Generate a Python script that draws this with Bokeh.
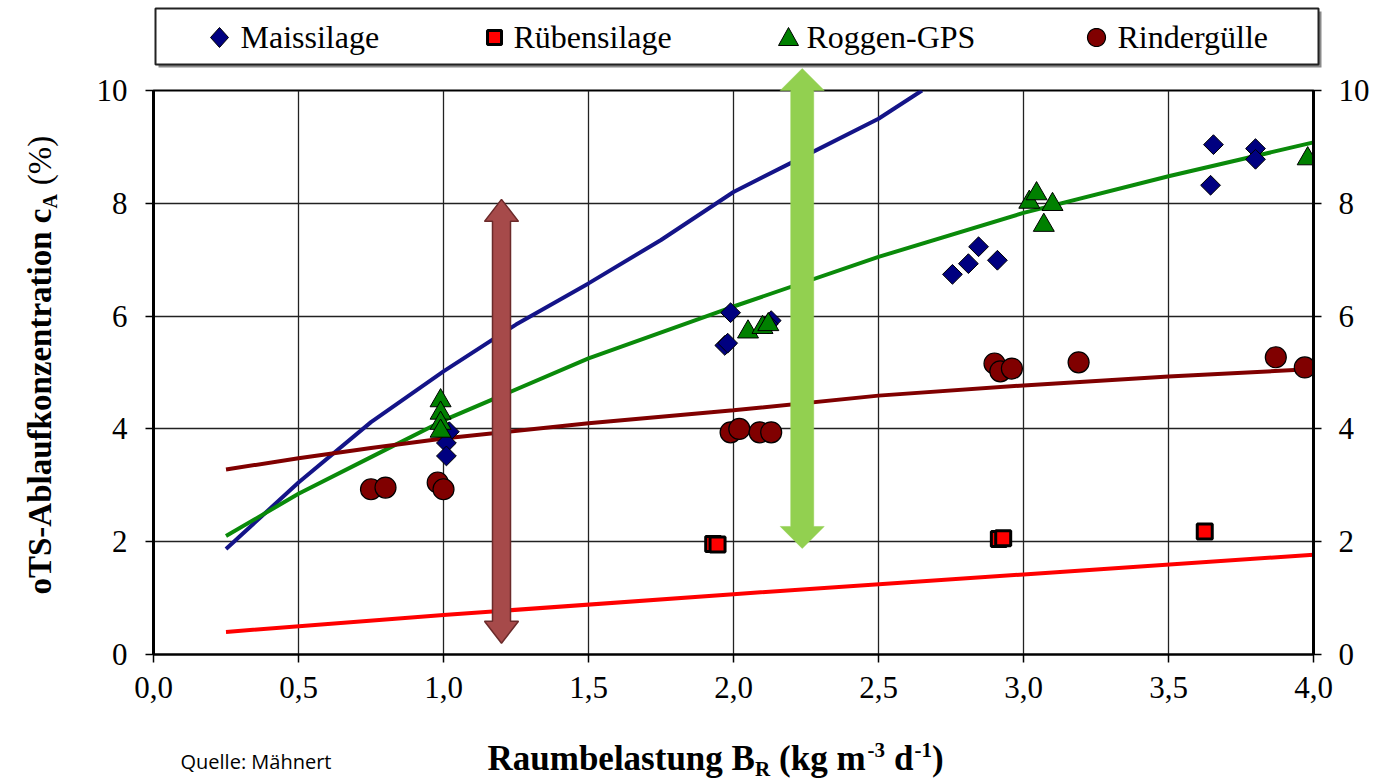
import math
from bokeh.plotting import figure
from bokeh.models import Range1d, LinearAxis, FixedTicker, CustomJSTickFormatter
from bokeh.core.properties import value
from bokeh.embed import file_html
from bokeh.resources import INLINE

# ---------------- data ----------------
series_names = ["Maissilage", "Rübensilage", "Roggen-GPS", "Rindergülle"]

mais_x = [1.02, 1.01, 1.01, 1.99, 1.97, 1.98, 2.13, 2.12, 2.755, 2.81, 2.845, 2.91, 3.655, 3.645, 3.80, 3.80]
mais_y = [3.95, 3.75, 3.52, 6.06, 5.48, 5.52, 5.92, 5.86, 6.74, 6.93, 7.23, 6.99, 9.04, 8.32, 8.97, 8.78]

rueben_x = [1.93, 1.945, 2.915, 2.93, 3.625]
rueben_y = [1.96, 1.95, 2.05, 2.06, 2.18]

roggen_x = [0.99, 0.99, 0.99, 0.99, 2.05, 2.10, 2.12, 3.02, 3.045, 3.10, 3.07, 3.98]
roggen_y = [4.50, 4.28, 4.10, 3.96, 5.72, 5.80, 5.85, 8.02, 8.17, 7.98, 7.61, 8.79]

rind_x = [0.75, 0.80, 0.98, 1.00, 1.99, 2.02, 2.09, 2.13, 2.90, 2.92, 2.96, 3.19, 3.87, 3.97]
rind_y = [2.93, 2.96, 3.05, 2.93, 3.94, 4.00, 3.94, 3.94, 5.16, 5.02, 5.07, 5.18, 5.27, 5.09]

# trend lines
mais_fit_x = [0.25, 0.5, 0.75, 1.0, 1.25, 1.5, 1.75, 2.0, 2.25, 2.5, 2.65]
mais_fit_y = [1.87, 3.05, 4.12, 5.02, 5.85, 6.58, 7.35, 8.20, 8.85, 9.50, 10.0]

roggen_fit_x = [0.25, 0.5, 0.75, 1.0, 1.5, 2.0, 2.5, 3.0, 3.5, 4.0]
roggen_fit_y = [2.10, 2.85, 3.50, 4.15, 5.25, 6.17, 7.05, 7.83, 8.48, 9.08]

rind_fit_x = [0.25, 0.5, 0.75, 1.0, 1.5, 2.0, 2.5, 3.0, 3.5, 4.0]
rind_fit_y = [3.28, 3.48, 3.66, 3.83, 4.10, 4.33, 4.59, 4.77, 4.93, 5.06]

rueben_fit_x = [0.25, 1.0, 2.0, 3.0, 4.0]
rueben_fit_y = [0.40, 0.70, 1.07, 1.42, 1.77]

x_ticks = [0.0, 0.5, 1.0, 1.5, 2.0, 2.5, 3.0, 3.5, 4.0]
y_ticks = [0, 2, 4, 6, 8, 10]

# annotation arrows (x position, lower tip, upper tip in data units)
brown_arrow = (1.20, 0.20, 8.07)
green_arrow = (2.237, 1.88, 10.39)

# ---------------- layout ----------------
FW, FH = 1160, 564
BL, BR, BT, BB = 153, 65, 90, 129
X0, X1, Y0, Y1 = 0.0, 4.0, 0.0, 10.0
px_x = FW / (X1 - X0)
px_y = FH / (Y1 - Y0)

def dx(px):   # canvas pixel x -> data x
    return X0 + (px - BL) / px_x

def dy(py):   # canvas pixel y -> data y
    return Y0 + (BT + FH - py) / px_y

p = figure(frame_width=FW, frame_height=FH,
           x_range=Range1d(X0, X1), y_range=Range1d(Y0, Y1),
           output_backend="svg", toolbar_location=None,
           min_border_left=BL, min_border_right=BR, min_border_top=BT, min_border_bottom=BB,
           background_fill_color="white", border_fill_color="white",
           outline_line_color="black", outline_line_width=2)

fmt = CustomJSTickFormatter(code="return tick.toFixed(1).replace('.', ',');")
p.xaxis.ticker = FixedTicker(ticks=x_ticks)
p.xaxis.formatter = fmt
p.yaxis.ticker = FixedTicker(ticks=y_ticks)
raxis = LinearAxis(ticker=FixedTicker(ticks=y_ticks))
p.add_layout(raxis, "right")

for ax in [p.xaxis[0], p.yaxis[0], raxis]:
    ax.major_label_text_font = "Liberation Serif"
    ax.major_label_text_font_size = "31px"
    ax.major_label_text_color = "black"
    ax.major_tick_out = 8
    ax.major_tick_in = 0
    ax.major_tick_line_width = 1.5
    ax.major_tick_line_color = "black"
    ax.minor_tick_out = 0
    ax.minor_tick_in = 0
    ax.axis_line_color = "black"
p.yaxis[0].axis_line_width = 3
raxis.axis_line_width = 3
p.xaxis[0].axis_line_width = 2
p.yaxis[0].major_label_standoff = 18
raxis.major_label_standoff = 17
p.xaxis[0].major_label_standoff = 14

p.xgrid[0].ticker = FixedTicker(ticks=x_ticks)
p.ygrid[0].ticker = FixedTicker(ticks=y_ticks)
for g in [p.xgrid[0], p.ygrid[0]]:
    g.grid_line_color = "#222222"
    g.grid_line_width = 1.3

# ---------------- trend lines ----------------
p.line(mais_fit_x, mais_fit_y, line_color="#141488", line_width=4)
p.line(roggen_fit_x, roggen_fit_y, line_color="#0A8A0A", line_width=4)
p.line(rind_fit_x, rind_fit_y, line_color="#800000", line_width=4)
p.line(rueben_fit_x, rueben_fit_y, line_color="#FF0000", line_width=4)

# ---------------- points ----------------
fills = ["#000080", "#FF0000", "#008000", "#800000"]
styles = [dict(marker="square", angle=math.pi / 4, size=14, line_width=1),
          dict(marker="square", angle=0.0, size=15, line_width=3),
          dict(marker="triangle", angle=0.0, size=21, line_width=1),
          dict(marker="circle", angle=0.0, size=21, line_width=1.2)]
series = [(mais_x, mais_y), (rueben_x, rueben_y), (roggen_x, roggen_y), (rind_x, rind_y)]
for (xs, ys), st, fc in zip(series, styles, fills):
    p.scatter(xs, ys, fill_color=fc, line_color="black", **st)

# ---------------- arrows ----------------
def double_arrow(spec, shaft, head_w, head_l):
    xc, y0, y1 = spec
    s = shaft / 2 / px_x
    h = head_w / 2 / px_x
    l = head_l / px_y
    xs = [xc - s, xc - h, xc, xc + h, xc + s, xc + s, xc + h, xc, xc - h, xc - s]
    ys = [y0 + l, y0 + l, y0, y0 + l, y0 + l, y1 - l, y1 - l, y1, y1 - l, y1 - l]
    return xs, ys

bx, by = double_arrow(brown_arrow, 18, 34, 22)
p.patch(bx, by, fill_color="#A64A4A", line_color="#6B2A2A", line_width=1.5, level="overlay")
gx, gy = double_arrow(green_arrow, 23, 44, 22)
p.patch(gx, gy, fill_color="#92D050", line_color="#92D050", line_width=0.5, level="overlay")

# ---------------- text helper ----------------
BASE_SHIFT = 0.33   # the text glyph sits about a third of the font size below the requested baseline

def put_text(px, py, txt, size, bold=True, angle=0.0, font="Liberation Serif"):
    if angle == 0.0:
        py = py - BASE_SHIFT * size
    else:
        px = px - BASE_SHIFT * size
    p.text(x=[dx(px)], y=[dy(py)], text=[txt], angle=angle,
           text_font=value(font), text_font_style=value("bold" if bold else "normal"),
           text_font_size=value(f"{size}px"), text_color="black",
           text_align="left", text_baseline="alphabetic", level="overlay")

# ---------------- legend (drawn above the frame) ----------------
LEG_BOX = (155, 1318, 8, 64)          # left, right, top, bottom in canvas pixels
LEG_MARK_X = [219, 494, 788, 1096]
LEG_TEXT_X = [240, 513, 806, 1117]
LEG_MARK_Y, LEG_TEXT_BASE = 37, 47
lb, rb, tb, bb = LEG_BOX
p.quad(left=[dx(lb + 3)], right=[dx(rb + 3)], top=[dy(tb + 3)], bottom=[dy(bb + 3)],
       fill_color="#8a8a8a", line_color=None, level="overlay")
p.quad(left=[dx(lb)], right=[dx(rb)], top=[dy(tb)], bottom=[dy(bb)],
       fill_color="white", line_color="#222222", line_width=2, level="overlay")

def symbol(kind, cx, cy):
    if kind == "diamond":
        pts = [(0, -10), (9, 0), (0, 10), (-9, 0)]
    elif kind == "square":
        pts = [(-7, -7), (7, -7), (7, 7), (-7, 7)]
    elif kind == "triangle":
        pts = [(0, -10), (10, 8), (-10, 8)]
    else:
        pts = [(9 * math.cos(t * math.pi / 18), 9 * math.sin(t * math.pi / 18)) for t in range(36)]
    return [dx(cx + a) for a, b in pts], [dy(cy + b) for a, b in pts]

leg_kinds = ["diamond", "square", "triangle", "circle"]
leg_lw = [1, 3, 1, 1.2]
for name, kind, fc, lw, mx, tx in zip(series_names, leg_kinds, fills, leg_lw, LEG_MARK_X, LEG_TEXT_X):
    sx, sy = symbol(kind, mx, LEG_MARK_Y)
    p.patch(sx, sy, fill_color=fc, line_color="black", line_width=lw, level="overlay")
    put_text(tx, LEG_TEXT_BASE, name, 32, bold=False)

# ---------------- axis titles (with sub/superscripts) ----------------
BOLD = {' ': 250, '(': 333, ')': 333, '-': 333, '%': 1000, '1': 500, '3': 500,
        'A': 722, 'B': 667, 'R': 722, 'S': 556, 'T': 667,
        'a': 500, 'b': 556, 'c': 444, 'd': 556, 'e': 444, 'f': 333, 'g': 500, 'i': 278,
        'k': 556, 'l': 278, 'm': 833, 'n': 556, 'o': 500, 'r': 444, 's': 389, 't': 333,
        'u': 556, 'z': 444}
REG = {' ': 250, '(': 333, ')': 333, '%': 833}

def width(text, size, bold=True):
    tbl = BOLD if bold else REG
    return sum(tbl.get(ch, 500) for ch in text) / 1000.0 * size

# x axis title: (text, size, vertical offset, gap after in px)
xt = [("Raumbelastung B", 35, 0, 0), ("R", 21, 5, 9), ("(kg m", 35, 0, 2), ("-3", 21, -14, 9),
      ("d", 35, 0, 1), ("-1", 21, -14, 0), (")", 35, 0, 0)]
cx = 487
for txt, sz, off, gap in xt:
    put_text(cx, 770 + off, txt, sz)
    cx += width(txt, sz) + gap

# y axis title (rotated, reads bottom to top)
yt = [("oTS-Ablaufkonzentration c", 33, 0, True, 0), ("A", 20, 6, True, 9), ("(%)", 33, 0, False, 0)]
cy = 594
for txt, sz, off, bold, gap in yt:
    put_text(50 + off, cy, txt, sz, bold=bold, angle=math.pi / 2)
    cy -= width(txt, sz, bold) + gap

# source note
put_text(180, 768, "Quelle: Mähnert", 20, bold=False, font="Open Sans")

open("out.html", "w").write(file_html(p, INLINE))
